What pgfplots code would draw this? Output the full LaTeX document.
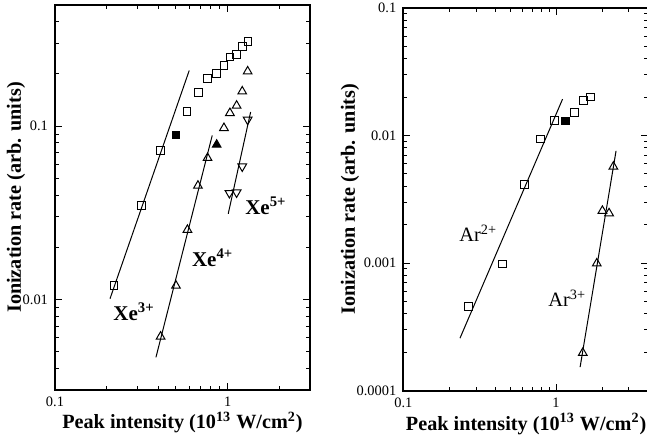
\documentclass[border=0pt]{standalone}
\usepackage{fontspec}
\setmainfont{Liberation Serif}
\usepackage{pgfplots}
\pgfplotsset{compat=1.18}
\pgfplotsset{
  fitline/.style={black, line width=0.5pt, no marks},
  sq/.style={only marks, mark=square, mark size=1.9pt, mark options={black, line width=0.5pt}},
  sqf/.style={only marks, mark=square*, mark size=1.9pt, mark options={black, fill=black, line width=0.5pt}},
  tri/.style={only marks, mark=triangle, mark size=2.5pt, mark options={black, line width=0.5pt}},
  trif/.style={only marks, mark=triangle*, mark size=2.5pt, mark options={black, fill=black, line width=0.5pt}},
  trid/.style={only marks, mark=triangle, mark size=2.5pt, mark options={black, line width=0.5pt, rotate=180}},
}
\begin{document}
\begin{tikzpicture}
\useasboundingbox (0,0) rectangle (323.5pt,219pt);
% ---------------- left panel: Xe ----------------
\begin{axis}[
  xmode=log, ymode=log, scale only axis,
  at={(27.5pt,24pt)}, anchor=south west,
  width=127.5pt, height=192.5pt,
  xmin=0.1, xmax=3, ymin=0.003, ymax=0.5,
  axis line style={line width=0.9pt},
  major tick length=3.5pt, minor tick length=1.8pt,
  tick style={black, line width=0.5pt},
  tick align=inside,
  xtick={0.1,1}, xticklabels={0.1,1},
  minor xtick={0.2,0.3,0.4,0.5,0.6,0.7,0.8,0.9,2,3,4},
  ytick={0.01,0.1}, yticklabels={0.01,0.1},
  minor ytick={0.004,0.005,0.006,0.007,0.008,0.009,0.02,0.03,0.04,0.05,0.06,0.07,0.08,0.09,0.2,0.3,0.4},
  tick label style={font=\fontsize{7.2}{8}\selectfont},
  label style={font=\fontsize{10.1}{12}\selectfont\bfseries},
  xlabel={Peak intensity (10\textsuperscript{13} W/cm\textsuperscript{2})},
  ylabel={Ionization rate (arb. units)},
  xlabel style={at={(axis description cs:0.5,-0.101)}, anchor=base},
  ylabel style={at={(axis description cs:-0.153,0.5)}, anchor=center},
  clip=false,
]
% Xe3+
\addplot[sq] coordinates {
 (0.220,0.0120) (0.318,0.0348) (0.409,0.0721) (0.583,0.1217) (0.676,0.156)
 (0.765,0.188) (0.859,0.201) (0.952,0.223) (1.031,0.2504) (1.121,0.2593)
 (1.215,0.2884) (1.311,0.3083)};
\addplot[sqf] coordinates {(0.502,0.0891)};
\addplot[fitline] coordinates {(0.2083,0.01009) (0.5993,0.2096)};
% Xe4+
\addplot[tri] coordinates {
 (0.409,0.0061) (0.502,0.0120) (0.585,0.0252) (0.673,0.0453) (0.765,0.0655)
 (0.952,0.0975) (1.031,0.119) (1.127,0.1312) (1.215,0.1585) (1.306,0.2068)};
\addplot[trif] coordinates {(0.864,0.0781)};
\addplot[fitline] coordinates {(0.3844,0.00463) (0.8144,0.0884)};
% Xe5+
\addplot[trid] coordinates {
 (1.024,0.0411) (1.127,0.0414) (1.215,0.0585) (1.306,0.1089)};
\addplot[fitline] coordinates {(1.008,0.0312) (1.359,0.1206)};
\node[anchor=base west, inner sep=0pt, font=\fontsize{10.5}{12}\selectfont\bfseries] at (axis cs:0.217,0.0076) {Xe\textsuperscript{3+}};
\node[anchor=base west, inner sep=0pt, font=\fontsize{10.5}{12}\selectfont\bfseries] at (axis cs:0.619,0.01545) {Xe\textsuperscript{4+}};
\node[anchor=base west, inner sep=0pt, font=\fontsize{10.5}{12}\selectfont\bfseries] at (axis cs:1.259,0.0308) {Xe\textsuperscript{5+}};
\end{axis}
% ---------------- right panel: Ar ----------------
\begin{axis}[
  xmode=log, ymode=log, scale only axis,
  at={(201.65pt,23.65pt)}, anchor=south west,
  width=122.35pt, height=191.35pt,
  xmin=0.1, xmax=4, ymin=0.0001, ymax=0.1,
  axis line style={line width=0.9pt},
  major tick length=3.5pt, minor tick length=1.8pt,
  tick style={black, line width=0.5pt},
  tick align=inside,
  xtick={0.1,1}, xticklabels={0.1,1},
  minor xtick={0.2,0.3,0.4,0.5,0.6,0.7,0.8,0.9,2,3,4},
  ytick={0.0001,0.001,0.01,0.1}, yticklabels={0.0001,0.001,0.01,0.1},
  minor ytick={0.0002,0.0003,0.0004,0.0005,0.0006,0.0007,0.0008,0.0009,
    0.002,0.003,0.004,0.005,0.006,0.007,0.008,0.009,
    0.02,0.03,0.04,0.05,0.06,0.07,0.08,0.09},
  tick label style={font=\fontsize{7.2}{8}\selectfont},
  label style={font=\fontsize{10.1}{12}\selectfont\bfseries},
  xlabel={Peak intensity (10\textsuperscript{13} W/cm\textsuperscript{2})},
  ylabel={Ionization rate (arb. units)},
  xlabel style={at={(axis description cs:0.502,-0.1027)}, anchor=base},
  ylabel style={at={(axis description cs:-0.218,0.5)}, anchor=center},
  clip=false,
]
% Ar2+
\addplot[sq] coordinates {
 (0.2666,0.000457) (0.4449,0.000987) (0.6189,0.00413) (0.7941,0.00937)
 (0.974,0.01316) (1.326,0.01514) (1.507,0.01887) (1.675,0.0201)};
\addplot[sqf] coordinates {(1.149,0.0130)};
\addplot[fitline] coordinates {(0.2350,0.000258) (1.103,0.0193)};
% Ar3+
\addplot[tri] coordinates {
 (1.496,0.000198) (1.848,0.000994) (2.011,0.00257) (2.224,0.00246) (2.373,0.00571)};
\addplot[fitline] coordinates {(1.437,0.000153) (2.471,0.00759)};
\node[anchor=base west, inner sep=0pt, font=\fontsize{10.2}{12}\selectfont] at (axis cs:0.2316,0.001469) {Ar\textsuperscript{2+}};
\node[anchor=base west, inner sep=0pt, font=\fontsize{10.2}{12}\selectfont] at (axis cs:0.886,0.000455) {Ar\textsuperscript{3+}};
\end{axis}
\end{tikzpicture}
\end{document}
